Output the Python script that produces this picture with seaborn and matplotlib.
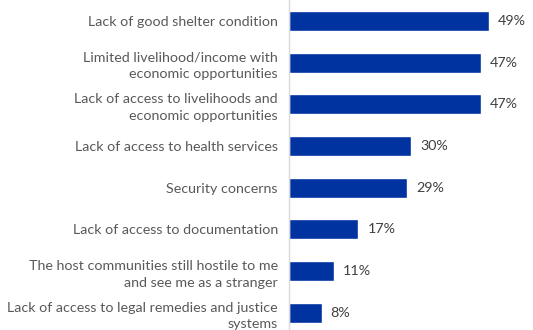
import matplotlib
matplotlib.use("Agg")
import matplotlib.pyplot as plt
import seaborn as sns
import pandas as pd

categories = [
    "Lack of good shelter condition",
    "Limited livelihood/income with\neconomic opportunities",
    "Lack of access to livelihoods and\neconomic opportunities",
    "Lack of access to health services",
    "Security concerns",
    "Lack of access to documentation",
    "The host communities still hostile to me\nand see me as a stranger",
    "Lack of access to legal remedies and justice\nsystems",
]
values = [49, 47, 47, 30, 29, 17, 11, 8]

df = pd.DataFrame({"category": categories, "value": values})

sns.set_theme(style="white")
plt.rcParams["font.family"] = ["Lato", "DejaVu Sans"]

fig = plt.figure(figsize=(5.33, 3.3), dpi=100)
ax = fig.add_axes([289 / 533, 0, 1 - 289 / 533, 1])

sns.barplot(data=df, x="value", y="category", orient="h", color="#0033A0",
            saturation=1, width=0.48, ax=ax)

ax.set_xlim(0, 59.8)
ax.set_ylim(7.41, -0.5)
ax.set_xlabel("")
ax.set_ylabel("")
ax.set_xticks([])

for side in ["top", "right", "bottom"]:
    ax.spines[side].set_visible(False)
ax.spines["left"].set_color("#d9d9d9")
ax.spines["left"].set_linewidth(1)

ax.tick_params(axis="y", length=0, pad=8, labelsize=10.3, labelcolor="#595959")
for lbl in ax.get_yticklabels():
    lbl.set_horizontalalignment("right")
    lbl.set_multialignment("right")
    lbl.set_linespacing(1.45)

for i, v in enumerate(values):
    ax.text(v + 2.2, i, f"{v}%", va="center", ha="left", fontsize=10.3,
            color="#404040")

fig.savefig("out.png", dpi=100)
